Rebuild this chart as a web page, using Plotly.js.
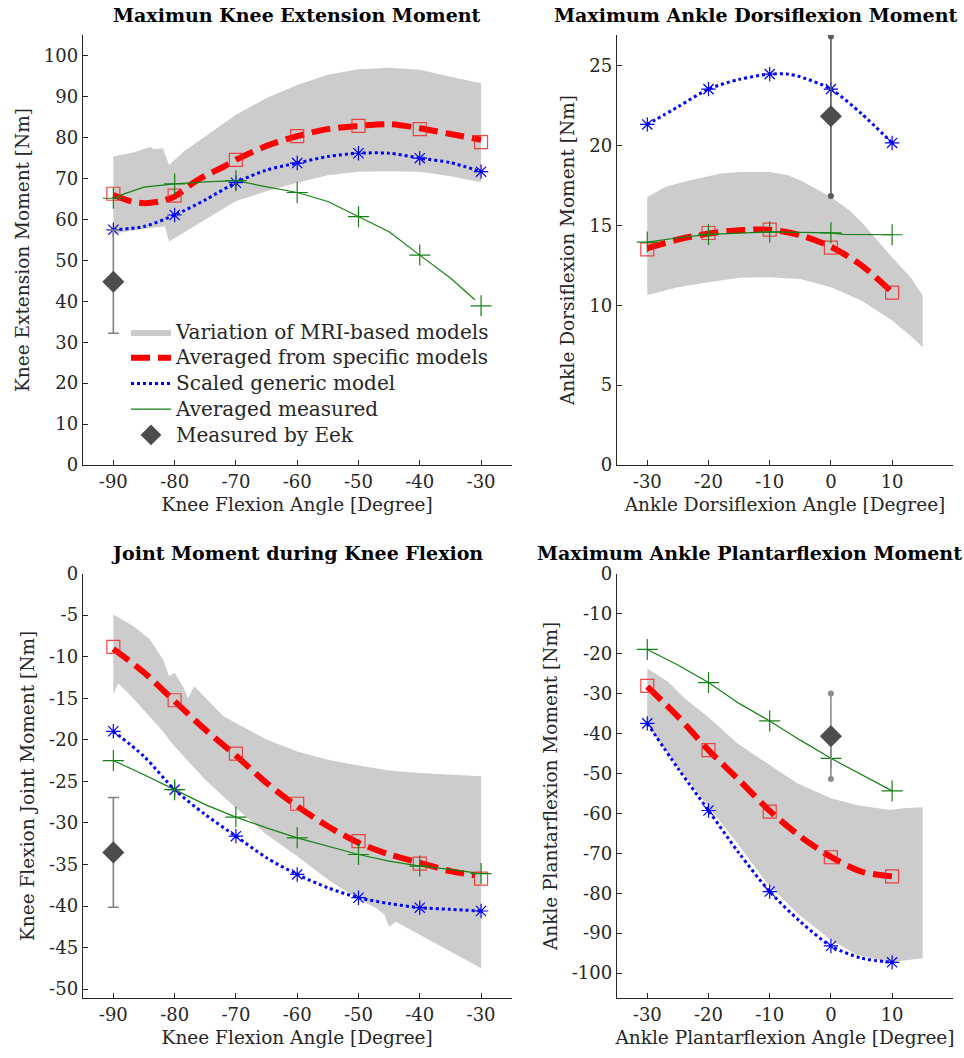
<!DOCTYPE html>
<html><head><meta charset="utf-8">
<script src="https://cdn.plot.ly/plotly-3.0.1.min.js"></script>
<style>html,body{margin:0;padding:0;background:#fff}</style>
</head><body><div id="chart" style="width:964px;height:1058px"></div>
<script>
// ---------- Panel A: Maximum knee extension moment ----------
const kneeAngles = [-90,-80,-70,-60,-50,-40,-30];
const kneeCurveX = [-90,-85,-80,-75,-70,-65,-60,-55,-50,-45,-40,-35,-30];
const extSpecificPts = [66.3,65.85,74.6,80.4,82.9,82.1,78.9];
const extSpecificCurveX = [-90,-87,-85,-82.5,-80,-77,-75,-72,-70,-65,-60,-55,-50,-45,-40,-35,-30];
const extSpecificCurve = [66.0,64.4,64.0,64.4,65.6,68.9,70.7,72.9,74.6,78.0,80.4,82.1,82.9,83.3,82.3,80.9,79.5];
const extGenericPts = [57.5,61.1,69.0,73.8,76.2,75.0,71.7];
const extGenericCurve = [57.5,58.3,61.1,64.8,69.0,72.1,73.8,75.4,76.2,76.2,75.0,73.9,71.7];
const extMeasuredPts = [65.2,68.7,69.5,66.6,60.7,51.3,38.9];
const extMeasuredCurveX = [-90,-88,-85,-80,-75,-70,-65,-60,-55,-50,-45,-40,-35,-31];
const extMeasuredCurve = [65.2,66.4,67.9,68.7,69.2,69.5,68.0,66.6,64.4,60.7,57.0,51.3,45.7,40.4];
const extBandUpperX = [-90,-86.7,-84,-83.3,-81.9,-80.9,-78.5,-75,-70,-65,-60,-55,-50,-45,-40,-35,-30];
const extBandUpper = [75.4,76.4,77.7,77.2,77.4,73.3,76.6,80.3,85.6,89.7,92.9,95.4,96.7,97.1,96.6,94.9,93.3];
const extBandLowerX = [-90,-84,-81.6,-80.9,-75,-70,-65,-60,-55,-50,-45,-40,-35,-30];
const extBandLower = [56.6,57.9,58.3,54.6,60.0,64.5,66.9,69.0,70.8,71.7,71.8,71.7,70.6,69.1];
const eekExtX = [-90], eekExtY = [44.8], eekExtErr = [12.6];

// ---------- Panel B: Maximum ankle dorsiflexion moment ----------
const ankleAngles = [-30,-20,-10,0,10];
const ankleCurveX = [-30,-25,-20,-15,-10,-5,0,5,10];
const dorsiSpecificPts = [13.5,14.53,14.74,13.62,10.8];
const dorsiSpecificCurve = [13.57,14.12,14.5,14.7,14.74,14.39,13.67,12.5,10.82];
const dorsiGenericPts = [21.33,23.54,24.48,23.54,20.17];
const dorsiGenericCurveX = [-30,-25,-20,-15,-10,-7,-5,0,5,10];
const dorsiGenericCurve = [21.33,22.43,23.54,24.15,24.48,24.48,24.31,23.54,22.0,20.17];
const dorsiMeasuredPts = [13.96,14.44,14.6,14.54,14.42];
const dorsiMeasuredCurveX = [-30,-25,-20,-10,0,2,10];
const dorsiMeasuredCurve = [13.96,14.23,14.44,14.6,14.54,14.44,14.42];
const dorsiBandUpperX = [-30,-27,-23,-18,-15,-10,-7,-5,0,3,5,10,13,15];
const dorsiBandUpper = [16.79,17.42,17.83,18.25,18.35,18.35,18.15,17.83,16.79,15.95,15.22,13.0,11.76,10.61];
const dorsiBandLowerX = [-30,-25,-20,-15,-10,-5,0,5,10,13,15];
const dorsiBandLower = [10.65,11.13,11.44,11.72,11.76,11.65,11.13,10.3,9.05,8.1,7.37];
const eekDorsiX = [0], eekDorsiY = [21.84], eekDorsiErr = [5.0];

// ---------- Panel C: Joint moment during knee flexion ----------
const flexSpecificPts = [-8.83,-15.25,-21.67,-27.7,-32.2,-34.9,-36.7];
const flexSpecificCurveX = [-90,-85,-80,-75,-70,-65,-60,-55,-50,-45,-40,-35,-31];
const flexSpecificCurve = [-9.07,-11.9,-15.37,-18.78,-21.9,-25.2,-28.0,-30.4,-32.4,-33.8,-34.8,-35.8,-36.3];
const flexGenericPts = [-18.98,-26.0,-31.6,-36.2,-39.0,-40.2,-40.6];
const flexGenericCurve = [-18.98,-22.0,-26.0,-29.0,-31.6,-34.2,-36.2,-37.8,-39.0,-39.7,-40.2,-40.4,-40.6];
const flexMeasuredPts = [-22.5,-26.0,-29.3,-31.8,-33.8,-35.2,-36.1];
const flexMeasuredCurve = [-22.5,-24.2,-26.0,-27.8,-29.3,-30.6,-31.8,-32.8,-33.8,-34.6,-35.2,-35.6,-36.1];
const flexBandUpperX = [-90,-86.7,-84,-81.9,-80.9,-80,-78.5,-77.8,-76.8,-74.7,-72,-70,-65,-60,-55,-50,-45,-40,-35,-30];
const flexBandUpper = [-4.94,-6.34,-7.94,-10.35,-12.36,-11.95,-13.76,-15.0,-13.57,-15.17,-17.2,-17.97,-19.98,-21.4,-22.4,-23.1,-23.7,-24.0,-24.2,-24.4];
const flexBandLowerX = [-90,-89.2,-87.3,-85.1,-82.4,-80,-75,-70,-65,-60,-55,-50,-47.2,-45.8,-45,-43.9,-40,-35,-30];
const flexBandLower = [-14.6,-13.2,-14.6,-16.4,-18.6,-20.8,-24.8,-28.2,-31.4,-34.0,-36.8,-39.2,-40.2,-41.0,-42.5,-41.9,-43.5,-45.5,-47.5];
const eekFlexX = [-90], eekFlexY = [-33.55], eekFlexErr = [6.6];

// ---------- Panel D: Maximum ankle plantarflexion moment ----------
const plantarSpecificPts = [-28.1,-44.2,-59.6,-71.0,-75.8];
const plantarSpecificCurve = [-28.3,-35.8,-44.2,-51.7,-59.4,-65.8,-70.9,-74.6,-75.8];
const plantarGenericPts = [-37.5,-59.3,-79.6,-93.2,-97.3];
const plantarGenericCurve = [-37.5,-48.75,-59.3,-70.0,-79.6,-87.1,-93.2,-96.25,-97.3];
const plantarMeasuredPts = [-19.0,-27.3,-36.9,-46.25,-54.4];
const plantarMeasuredCurve = [-19.0,-22.9,-27.3,-32.5,-36.9,-41.7,-46.25,-50.4,-54.4];
const plantarBandUpperX = [-30,-26.6,-23.9,-20.1,-15.3,-10.4,-5.5,0,4.2,9.6,11.8,15];
const plantarBandUpper = [-23.75,-27.1,-31.25,-35.85,-42.5,-47.5,-52.5,-56.25,-57.9,-59.2,-58.75,-58.5];
const plantarBandLowerX = [-30,-25,-20,-15.3,-10.4,-5.5,0,4.2,9.6,15];
const plantarBandLower = [-37.9,-48.35,-58.35,-67.5,-77.5,-85,-91.7,-95.4,-97.3,-96.25];
const eekPlantarX = [0], eekPlantarY = [-40.7], eekPlantarErr = [10.7];

// ---------- Tick labels ----------
const kneeTicks = [-90,-80,-70,-60,-50,-40,-30];
const ankleTicks = [-30,-20,-10,0,10];
const extYTicks = [0,10,20,30,40,50,60,70,80,90,100];
const dorsiYTicks = [0,5,10,15,20,25];
const flexYTicks = [0,-5,-10,-15,-20,-25,-30,-35,-40,-45,-50];
const plantarYTicks = [0,-10,-20,-30,-40,-50,-60,-70,-80,-90,-100];

// ---------- styles ----------
const FONT = 'DejaVu Serif, serif';
const RED = 'rgb(255,0,0)', BLUE = 'rgb(0,0,255)', GREEN = 'rgb(20,130,20)', BAND = 'rgb(204,204,204)';
const LEG = s => '<span style="font-size:20px">' + s + '</span>';
const traces = [];

function band(ux, uy, lx, ly, xa, ya, legend) {
  traces.push({type:'scatter', mode:'lines', x: ux.concat(lx.slice().reverse()), y: uy.concat(ly.slice().reverse()),
    fill:'toself', fillcolor: BAND, line:{width:0, color: BAND}, xaxis: xa, yaxis: ya,
    name: LEG('Variation of MRI-based models'), showlegend: legend, hoverinfo:'skip'});
}
function curve(x, y, color, width, dash, shape, xa, ya, name, legend) {
  traces.push({type:'scatter', mode:'lines', x, y, line:{color, width, dash, shape, smoothing:0.8},
    xaxis: xa, yaxis: ya, name: LEG(name), showlegend: legend});
}
function pts(x, y, symbol, color, size, xa, ya) {
  traces.push({type:'scatter', mode:'markers', x, y, marker:{symbol, size, color, line:{color, width:1.2}},
    xaxis: xa, yaxis: ya, showlegend:false});
}
function eek(x, y, err, xa, ya, legend, capw, ecol, dots) {
  traces.push({type:'scatter', mode:'markers', x, y, xaxis: xa, yaxis: ya, name: LEG('Measured by Eek'), showlegend: legend,
    marker:{symbol:'diamond', size:17, color:'rgb(77,77,77)'},
    error_y:{type:'data', array: err, visible:true, color: ecol, thickness:1.6, width: capw}});
  if (dots) {
    const dx = [], dy = [];
    for (let i = 0; i < x.length; i++) { dx.push(x[i], x[i]); dy.push(y[i] - err[i], y[i] + err[i]); }
    traces.push({type:'scatter', mode:'markers', x: dx, y: dy, xaxis: xa, yaxis: ya, showlegend:false,
      marker:{symbol:'circle', size:6, color: ecol}});
  }
}
const REDDASH = '19px,8px', BLUEDOT = '3px,3px';

function panel(p) {
  band(p.bux, p.buy, p.blx, p.bly, p.xa, p.ya, p.legend);
  curve(p.rx, p.ry, RED, 6, REDDASH, 'spline', p.xa, p.ya, 'Averaged from specific models', p.legend);
  curve(p.bx, p.by, BLUE, 3, BLUEDOT, 'spline', p.xa, p.ya, 'Scaled generic model', p.legend);
  curve(p.gx, p.gy, GREEN, 1.2, 'solid', 'linear', p.xa, p.ya, 'Averaged measured', p.legend);
  pts(p.angles, p.redPts, 'square-open', 'rgba(240,40,40,0.85)', 13, p.xa, p.ya);
  pts(p.angles, p.bluePts, 'asterisk-open', BLUE, 12, p.xa, p.ya);
  pts(p.angles, p.greenPts, 'cross-thin-open', GREEN, 15, p.xa, p.ya);
  eek(p.ex, p.ey, p.ee, p.xa, p.ya, p.legend, p.capw, p.ecol, p.dots);
}

panel({xa:'x', ya:'y', legend:true, angles: kneeAngles,
  bux: extBandUpperX, buy: extBandUpper, blx: extBandLowerX, bly: extBandLower,
  rx: extSpecificCurveX, ry: extSpecificCurve, bx: kneeCurveX, by: extGenericCurve, gx: extMeasuredCurveX, gy: extMeasuredCurve,
  redPts: extSpecificPts, bluePts: extGenericPts, greenPts: extMeasuredPts,
  ex: eekExtX, ey: eekExtY, ee: eekExtErr, capw: 5.5, ecol:'rgb(130,130,130)', dots:false});
panel({xa:'x2', ya:'y2', legend:false, angles: ankleAngles,
  bux: dorsiBandUpperX, buy: dorsiBandUpper, blx: dorsiBandLowerX, bly: dorsiBandLower,
  rx: ankleCurveX, ry: dorsiSpecificCurve, bx: dorsiGenericCurveX, by: dorsiGenericCurve, gx: dorsiMeasuredCurveX, gy: dorsiMeasuredCurve,
  redPts: dorsiSpecificPts, bluePts: dorsiGenericPts, greenPts: dorsiMeasuredPts,
  ex: eekDorsiX, ey: eekDorsiY, ee: eekDorsiErr, capw: 0, ecol:'rgb(90,90,90)', dots:true});
panel({xa:'x3', ya:'y3', legend:false, angles: kneeAngles,
  bux: flexBandUpperX, buy: flexBandUpper, blx: flexBandLowerX, bly: flexBandLower,
  rx: flexSpecificCurveX, ry: flexSpecificCurve, bx: kneeCurveX, by: flexGenericCurve, gx: kneeCurveX, gy: flexMeasuredCurve,
  redPts: flexSpecificPts, bluePts: flexGenericPts, greenPts: flexMeasuredPts,
  ex: eekFlexX, ey: eekFlexY, ee: eekFlexErr, capw: 5.5, ecol:'rgb(130,130,130)', dots:false});
panel({xa:'x4', ya:'y4', legend:false, angles: ankleAngles,
  bux: plantarBandUpperX, buy: plantarBandUpper, blx: plantarBandLowerX, bly: plantarBandLower,
  rx: ankleCurveX, ry: plantarSpecificCurve, bx: ankleCurveX, by: plantarGenericCurve, gx: ankleCurveX, gy: plantarMeasuredCurve,
  redPts: plantarSpecificPts, bluePts: plantarGenericPts, greenPts: plantarMeasuredPts,
  ex: eekPlantarX, ey: eekPlantarY, ee: eekPlantarErr, capw: 0, ecol:'rgb(140,140,140)', dots:true});

const W = 964, H = 1058;
const TXT = 'rgb(38,38,38)';
function xax(dom, range, ticks, anchor, title) {
  return {domain: dom, range, anchor, tickvals: ticks, ticktext: ticks.map(String), showgrid:false, zeroline:false,
    showline:true, linecolor: TXT, linewidth:1, ticks:'inside', ticklen:5, tickcolor: TXT, automargin:false,
    tickfont:{family: FONT, size:18, color: TXT}, title:{text: title, font:{family: FONT, size:18.5, color: TXT}, standoff:7}};
}
function yax(dom, range, ticks, anchor, title) {
  return {domain: dom, range, anchor, tickvals: ticks, ticktext: ticks.map(String), showgrid:false, zeroline:false,
    showline:true, linecolor: TXT, linewidth:1, ticks:'inside', ticklen:5, tickcolor: TXT, automargin:false,
    tickfont:{family: FONT, size:18, color: TXT}, title:{text: title, font:{family: FONT, size:18.5, color: TXT}, standoff:9}};
}
const xL = [82.7/W, 511.7/W], xR = [616.7/W, 953.3/W];
const yT = [1-465/H, 1-35/H], yB = [1-998.3/H, 1-573.5/H];

function ttl(text, px, py) {
  return {text:'<b>'+text+'</b>', x: px/W, y: 1-py/H, xref:'paper', yref:'paper', showarrow:false,
    xanchor:'center', yanchor:'middle', font:{family: FONT, size:19, color:'black'}};
}

const layout = {
  width: W, height: H, margin:{l:0, r:0, t:0, b:0}, paper_bgcolor:'white', plot_bgcolor:'rgba(0,0,0,0)',
  showlegend:true,
  legend:{x:126/W, y:1-314/H, xanchor:'left', yanchor:'top', bgcolor:'rgba(0,0,0,0)', borderwidth:0,
    font:{family: FONT, size:17.5, color: TXT}, tracegroupgap:0, itemwidth:40},
  xaxis: xax(xL, [-95,-25], kneeTicks, 'y', 'Knee Flexion Angle [Degree]'),
  yaxis: yax(yT, [0,105.1], extYTicks, 'x', 'Knee Extension Moment [Nm]'),
  xaxis2: xax(xR, [-35,20], ankleTicks, 'y2', 'Ankle Dorsiflexion Angle [Degree]'),
  yaxis2: yax(yT, [0,26.93], dorsiYTicks, 'x2', 'Ankle Dorsiflexion Moment [Nm]'),
  xaxis3: xax(xL, [-95,-25], kneeTicks, 'y3', 'Knee Flexion Angle [Degree]'),
  yaxis3: yax(yB, [-51.1,0], flexYTicks, 'x3', 'Knee Flexion Joint Moment [Nm]'),
  xaxis4: xax(xR, [-35,20], ankleTicks, 'y4', 'Ankle Plantarflexion Angle [Degree]'),
  yaxis4: yax(yB, [-106.3,0], plantarYTicks, 'x4', 'Ankle Plantarflexion Moment [Nm]'),
  annotations: [
    ttl('Maximun Knee Extension Moment', 297, 15),
    ttl('Maximum Ankle Dorsiflexion Moment', 756, 15),
    ttl('Joint Moment during Knee Flexion', 297, 553),
    ttl('Maximum Ankle Plantarflexion Moment', 749.5, 553)
  ]
};
Plotly.newPlot('chart', traces, layout, {displayModeBar:false, staticPlot:true});
</script></body></html>
